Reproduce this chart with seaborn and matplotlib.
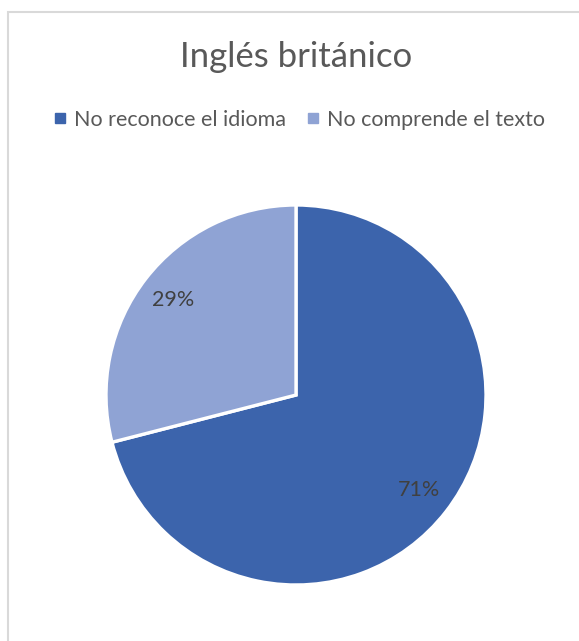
import matplotlib
matplotlib.use("Agg")
import matplotlib.pyplot as plt
import seaborn as sns
from matplotlib.lines import Line2D
from matplotlib.patches import Rectangle

categories = ["No reconoce el idioma", "No comprende el texto"]
values = [71, 29]
colors = ["#3C64AC", "#8FA3D4"]
title = "Inglés británico"

sns.set_theme(style="white")
plt.rcParams['font.family'] = ['Lato', 'DejaVu Sans']
text_color = "#595959"

W, H = 579, 641
fig = plt.figure(figsize=(W / 100, H / 100), dpi=100)

# chart area frame (runs off the right/bottom of the crop)
fig.patches.append(Rectangle((8 / W, -0.05), 1.2, 1 - 12 / H + 0.05,
                             transform=fig.transFigure, fill=False,
                             edgecolor="#D9D9D9", linewidth=1.5))

r = 190
cx, cy = 296, H - 395
ax = fig.add_axes([(cx - r) / W, (cy - r) / H, 2 * r / W, 2 * r / H])
wedges, texts, autotexts = ax.pie(
    values, colors=colors, startangle=90, counterclock=False,
    autopct=lambda p: f"{p:.0f}%", pctdistance=0.82, radius=1,
    wedgeprops=dict(edgecolor="white", linewidth=2.4),
    textprops=dict(fontsize=15.5, color="#404040"))
ax.set_xlim(-1, 1)
ax.set_ylim(-1, 1)
ax.set_aspect("equal")
ax.axis("off")

fig.text(296 / W, 1 - 57 / H, title, ha="center", va="center",
         fontsize=25, color=text_color)

handles = [Line2D([], [], marker="s", linestyle="none", markersize=7,
                  markerfacecolor=c, markeredgecolor=c) for c in colors]
fig.legend(handles, categories, loc="center", ncol=2,
           bbox_to_anchor=(299 / W, 1 - 120 / H), frameon=False,
           fontsize=15.5, labelcolor=text_color, handletextpad=0.3,
           columnspacing=0.9, handlelength=0.7)

fig.savefig("out.png", dpi=100)
